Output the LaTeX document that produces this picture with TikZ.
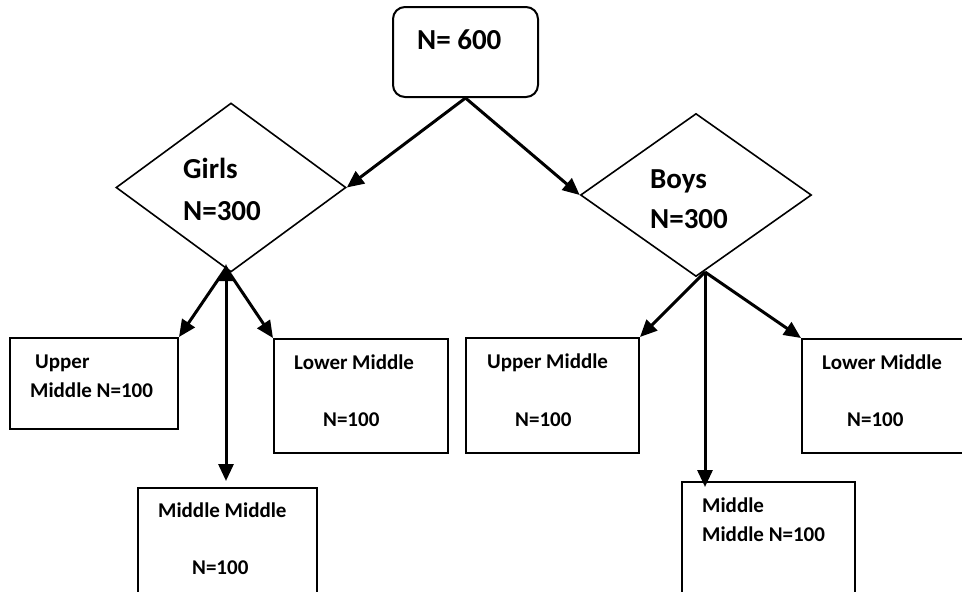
\documentclass[tikz,border=0pt]{standalone}
\usepackage{fontspec}
\setmainfont{Carlito}
\usetikzlibrary{arrows.meta,shapes.geometric}
\tikzset{
  boxnode/.style={draw, line width=2pt, rectangle, inner sep=0pt, anchor=north west},
  diam/.style={draw, line width=1.6pt, diamond, inner sep=0pt},
  bigtxt/.style={anchor=base west, inner sep=0pt, font=\fontsize{29}{34}\selectfont\bfseries},
  smalltxt/.style={anchor=base west, inner sep=0pt, font=\fontsize{21}{25}\selectfont\bfseries},
  conn/.style={line width=3pt, -{Triangle[length=17pt,width=15pt]}},
  dconn/.style={line width=3pt, {Triangle[length=17pt,width=15pt]}-{Triangle[length=17pt,width=15pt]}}
}
\begin{document}
\begin{tikzpicture}[x=1pt,y=-1pt]
\useasboundingbox (0,0) rectangle (962,592);
\clip (0,0) rectangle (962,592);
% top
\node[draw, line width=2pt, rounded corners=12pt, minimum width=145pt, minimum height=90pt, inner sep=0pt] (top) at (465.5,52) {};
\node[bigtxt] (ttop) at (417,49) {N= 600};
% diamonds
\node[diam, minimum width=230pt, minimum height=169pt] (girls) at (231,187.5) {};
\node[bigtxt] (tg1) at (183,178) {Girls};
\node[bigtxt] (tg2) at (183,220) {N=300};
\node[diam, minimum width=231pt, minimum height=163pt] (boys) at (696,195) {};
\node[bigtxt] (tb1) at (650,188) {Boys};
\node[bigtxt] (tb2) at (650,228) {N=300};
% girls boxes
\node[boxnode, minimum width=168pt, minimum height=91pt] (gum) at (9,337) {};
\node[smalltxt] (tgum1) at (35,368.5) {Upper};
\node[smalltxt] (tgum2) at (30,397) {Middle N=100};
\node[boxnode, minimum width=174pt, minimum height=114pt] (glm) at (273,338) {};
\node[smalltxt] (tglm1) at (294,369.5) {Lower Middle};
\node[smalltxt] (tglm2) at (323,426) {N=100};
\node[boxnode, minimum width=179pt, minimum height=130pt] (gmm) at (137,487) {};
\node[smalltxt] (tgmm1) at (158,517) {Middle Middle};
\node[smalltxt] (tgmm2) at (192,574) {N=100};
% boys boxes
\node[boxnode, minimum width=173pt, minimum height=115pt] (bum) at (465,337) {};
\node[smalltxt] (tbum1) at (487,368.5) {Upper Middle};
\node[smalltxt] (tbum2) at (515,426) {N=100};
\node[boxnode, minimum width=170pt, minimum height=114pt] (blm) at (801,338) {};
\node[smalltxt] (tblm1) at (822,369) {Lower Middle};
\node[smalltxt] (tblm2) at (847,426) {N=100};
\node[boxnode, minimum width=173pt, minimum height=130pt] (bmm) at (681,481) {};
\node[smalltxt] (tbmm1) at (702,512) {Middle};
\node[smalltxt] (tbmm2) at (702,541.5) {Middle N=100};
% connector points
\coordinate (gs) at (226,264);
\coordinate (gsd) at (226,481);
\coordinate (gsl) at (226,268);
\coordinate (bs) at (705,272);
\coordinate (bsd) at (705,487);
% connectors
\draw[conn] (top.south) -- (girls.east);
\draw[conn] (top.south) -- (boys.west);
\draw[dconn] (gs) -- (gsd);
\draw[conn] (gsl) -- (gum.north east);
\draw[conn] (gsl) -- (glm.north west);
\draw[conn] (bs) -- (bum.north east);
\draw[conn] (bs) -- (blm.north west);
\draw[conn] (bs) -- (bsd);
\end{tikzpicture}
\end{document}
